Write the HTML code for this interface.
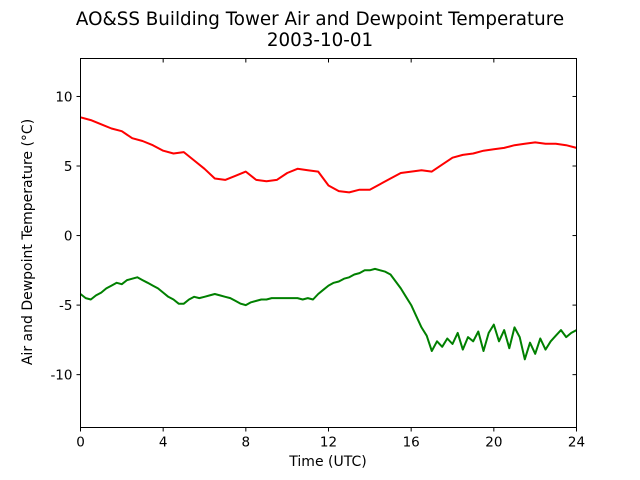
<!DOCTYPE html>
<html><head><meta charset="utf-8"><style>
body{margin:0;background:#fff;}
svg{display:block;font-family:"DejaVu Sans","Liberation Sans",sans-serif;}
</style></head><body>
<svg id="chart" width="640" height="480">
<text x="320" y="25" text-anchor="middle" font-size="18.3">AO&amp;SS Building Tower Air and Dewpoint Temperature</text>
<text x="320" y="46" text-anchor="middle" font-size="18.3">2003-10-01</text>
<text x="328" y="466" text-anchor="middle" font-size="14">Time (UTC)</text>
<text transform="translate(32,242) rotate(-90)" text-anchor="middle" font-size="14">Air and Dewpoint Temperature (°C)</text>
<g id="plot"></g>
<rect x="80.5" y="58.5" width="496" height="369" fill="none" stroke="#000" stroke-width="1"/>
</svg>
<script>
const xTicks=[0,4,8,12,16,20,24];
const yTicks=[-10,-5,0,5,10];
const airTemp=[8.5,8.3,8.0,7.7,7.5,7.0,6.8,6.5,6.1,5.9,6.0,5.4,4.8,4.1,4.0,4.3,4.6,4.0,3.9,4.0,4.5,4.8,4.7,4.6,3.6,3.2,3.1,3.3,3.3,3.7,4.1,4.5,4.6,4.7,4.6,5.1,5.6,5.8,5.9,6.1,6.2,6.3,6.5,6.6,6.7,6.6,6.6,6.5,6.3];
const dewTemp=[-4.2,-4.5,-4.6,-4.3,-4.1,-3.8,-3.6,-3.4,-3.5,-3.2,-3.1,-3.0,-3.2,-3.4,-3.6,-3.8,-4.1,-4.4,-4.6,-4.9,-4.9,-4.6,-4.4,-4.5,-4.4,-4.3,-4.2,-4.3,-4.4,-4.5,-4.7,-4.9,-5.0,-4.8,-4.7,-4.6,-4.6,-4.5,-4.5,-4.5,-4.5,-4.5,-4.5,-4.6,-4.5,-4.6,-4.2,-3.9,-3.6,-3.4,-3.3,-3.1,-3.0,-2.8,-2.7,-2.5,-2.5,-2.4,-2.5,-2.6,-2.8,-3.3,-3.8,-4.4,-5.0,-5.8,-6.6,-7.2,-8.3,-7.6,-8.0,-7.4,-7.8,-7.0,-8.2,-7.3,-7.6,-6.9,-8.3,-7.0,-6.4,-7.6,-6.8,-8.1,-6.6,-7.3,-8.9,-7.7,-8.5,-7.4,-8.2,-7.6,-7.2,-6.8,-7.3,-7.0,-6.8];
const X0=80.5,X1=576.5,Y0=427.5,Y1=58.5,XMIN=0,XMAX=24,YMIN=-13.8,YMAX=12.73;
const xs=v=>X0+(v-XMIN)/(XMAX-XMIN)*(X1-X0);
const ys=v=>Y0-(v-YMIN)/(YMAX-YMIN)*(Y0-Y1);
const NS="http://www.w3.org/2000/svg";
const g=document.getElementById('plot');
function mk(t,a){const e=document.createElementNS(NS,t);for(const k in a)e.setAttribute(k,a[k]);g.appendChild(e);return e;}
xTicks.forEach(t=>{
 const l=mk('line',{x1:xs(t),x2:xs(t),y1:Y0,y2:Y0+4,stroke:'#000'});
 
 
 const l2=mk('line',{x1:xs(t),x2:xs(t),y1:Y1,y2:Y1+4,stroke:'#000'});
 
 
 const tx=mk('text',{x:xs(t),y:Y0+19,'text-anchor':'middle','font-size':13.5});
 tx.textContent=t;
 
 
});
yTicks.forEach(t=>{
 const l=mk('line',{x1:X0-4,x2:X0,y1:ys(t),y2:ys(t),stroke:'#000'});
 
 
 const l2=mk('line',{x1:X1-4,x2:X1,y1:ys(t),y2:ys(t),stroke:'#000'});
 
 
 const tx=mk('text',{x:X0-8,y:ys(t)+5,'text-anchor':'end','font-size':13.5});
 tx.textContent=t;
 
 
});
function line(arr,color,name){
 const step=24/(arr.length-1);
 const pts=arr.map((v,i)=>xs(i*step).toFixed(1)+','+ys(v).toFixed(1)).join(' ');
 const p=mk('polyline',{points:pts,fill:'none',stroke:color,'stroke-width':2,'stroke-linejoin':'round'});
 
 
}
line(airTemp,'#ff0000','air-temperature-line');
line(dewTemp,'#008000','dewpoint-temperature-line');
</script>
</body></html>
